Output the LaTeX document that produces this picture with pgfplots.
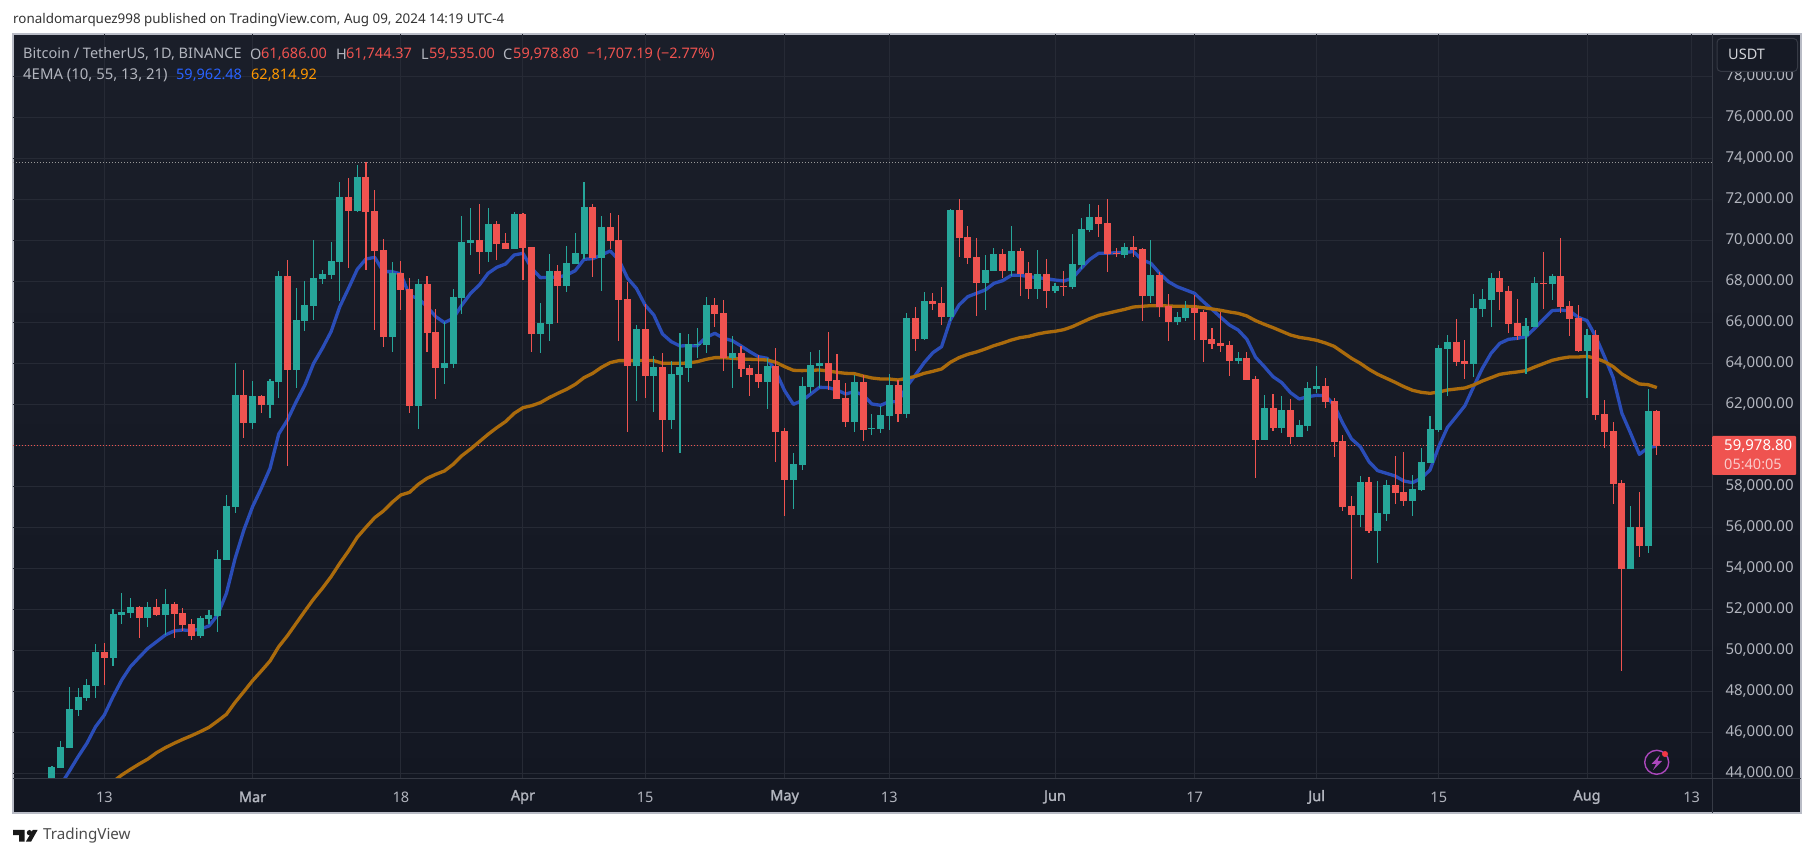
\documentclass[border=0pt]{standalone}
\usepackage{fontspec}
\usepackage{pgfplots}
\usepackage{pgfplotstable}
\pgfplotsset{compat=1.18}
\setmainfont{Noto Sans}
\newfontfamily\boldlab[FakeBold=1.6]{Noto Sans}
\definecolor{upc}{HTML}{26A69A}
\definecolor{dnc}{HTML}{EF5350}
\definecolor{gridc}{HTML}{262A35}
\definecolor{labc}{HTML}{B2B5BE}
\definecolor{bluel}{HTML}{2A4DB8}
\definecolor{orangel}{HTML}{AB6B0C}
\definecolor{framec}{HTML}{B9BCC6}
\definecolor{divc}{HTML}{363A45}
\definecolor{bgtop}{HTML}{1A1E29}
\definecolor{bgbot}{HTML}{131722}
\definecolor{usdtbg}{HTML}{161A25}
\definecolor{legblue}{HTML}{2962FF}
\definecolor{legor}{HTML}{FF9800}
\definecolor{purp}{HTML}{AB47BC}
\definecolor{dotred}{HTML}{F23645}
\newcommand{\fs}{\fontsize{14.5}{17}\selectfont}
\newcommand{\ft}{\fontsize{15}{17}\selectfont}
\newcommand{\fh}{\fontsize{13.4}{16}\selectfont}
\newcommand{\mb}[1]{{\boldlab #1}}

\pgfplotstableread{
d O H L C
-6 43300 44356 43300 44308
-5 44259 45576 44259 45283
-4 45235 48210 45235 47137
-3 47088 48161 46796 47722
-2 47674 48600 47527 48308
-1 48259 50308 47674 49917
1 49625 52015 49235 51771
2 51722 52795 51283 51869
3 51820 52552 51576 52113
5 51576 52356 51137 52113
7 51722 52990 50747 52259
11 50698 51673 50600 51576
12 51527 51966 51283 51722
13 51673 54893 50893 54454
14 54405 57576 54405 57039
15 56990 64014 56698 62453
17 61087 63136 60795 62405
19 61965 63234 61331 63136
20 63087 68502 62307 68258
22 63673 67673 62795 66112
23 66063 68014 65575 66844
24 66795 70014 66112 68161
25 68112 68551 67868 68356
26 68307 69917 68112 68990
27 68941 72843 67039 72112
29 71429 73673 71380 73087
33 65282 68941 64551 68404
36 61917 68112 60795 67868
39 63771 66015 62990 64015
40 63966 67625 63771 67234
41 67186 71186 66405 69917
42 69869 71576 69283 70015
44 69429 71576 68942 70795
47 69576 71381 69576 71283
50 65429 66942 64503 65966
51 65917 69332 65088 68503
53 67771 69722 67478 68893
54 68844 70356 68844 69381
55 69332 72844 69088 71624
57 69137 71186 67527 70649
61 63869 65869 62161 65673
63 63381 64356 61625 63820
65 61234 64112 60796 63478
66 63429 65478 59625 63820
67 63771 65429 63088 64942
68 64893 65722 64259 64942
69 64893 67234 64503 66844
72 64259 65332 62795 64503
76 63088 64259 61771 63868
79 58308 59625 56893 59088
80 59039 63332 58795 62893
81 62844 64551 62552 63917
82 63868 64649 62795 64015
86 61136 63429 60649 63088
88 60795 61527 60503 60844
89 60795 61917 60600 61478
90 61429 63478 60746 62941
92 61527 66454 61332 66210
94 65185 67478 65136 67039
97 66258 71527 66063 71478
101 67917 69283 66600 68551
102 68502 69624 68502 69331
104 68502 70697 68258 69478
107 67624 69527 67136 68356
109 67527 67917 67429 67770
111 67722 70307 67624 68844
112 68795 71088 68600 70551
113 70502 71770 70405 71136
117 69283 69868 69136 69673
120 67283 70014 66941 68307
123 66014 66502 65868 66258
124 66210 67039 66063 66697
130 64112 64551 63966 64258
133 60258 62453 60258 61819
135 60844 62405 60600 61722
137 60405 61234 60405 60990
138 60941 63088 60697 62795
139 62746 63868 62551 62892
144 56600 58502 56015 58209
146 55819 58258 54258 56697
147 56649 58307 56307 58063
150 57283 58551 56551 57868
151 57819 59868 57770 59185
152 59136 61429 59136 60795
153 60746 64892 60649 64746
154 64697 65380 62405 65039
157 63966 67380 63331 66697
158 66648 67624 66258 67136
159 67087 68405 65771 68161
163 65331 66210 63478 65819
164 65770 68209 65770 67917
166 67868 68356 67087 68258
170 64600 65673 62307 65380
175 53966 57039 53966 56015
177 55088 62746 54746 61673
}\upcandles

\pgfplotstableread{
d O H L C
0 49917 50357 48308 49625
4 52113 52161 50600 51576
6 52113 52503 51673 51722
8 52259 52356 50600 51771
9 51820 52064 50942 51235
10 51283 51527 50503 50698
16 62453 63673 60355 61087
18 62405 62453 61575 61965
21 68258 69039 58990 63673
28 72112 73039 68648 71429
30 73087 73803 68551 71380
31 71429 72453 65624 69478
32 69526 70063 64795 65282
34 68404 68990 66600 67575
35 67624 68161 61575 61917
37 67868 68259 64551 65478
38 65527 66649 62259 63771
43 70015 71771 68356 69429
45 70795 70942 69039 69820
46 69869 70356 69576 69576
48 71283 71332 68064 69625
49 69673 69673 64551 65429
52 68503 68795 65966 67771
56 71624 71771 68210 69137
58 70649 71332 69576 69966
59 70015 71234 65088 67088
60 67137 67966 60649 63869
62 65673 66893 62307 63381
64 63820 64503 59674 61234
70 66844 67186 65771 66405
71 66454 67088 63625 64259
73 64503 64844 63332 63722
74 63771 63917 62405 63429
75 63478 64405 62795 63088
77 63868 64747 59186 60649
78 60698 60844 56552 58308
83 64015 65527 62697 63136
84 63185 64453 62259 62259
85 62307 63039 60893 61136
87 63088 63429 60210 60746
91 62941 63185 61136 61527
93 66210 66746 64600 65185
95 67039 67429 66600 66893
96 66941 67722 65868 66258
98 71478 72014 69185 70112
99 70161 70697 68844 69136
100 69185 70112 66307 67917
103 69331 69575 68161 68502
105 69478 69624 67283 68356
106 68405 68941 67136 67624
108 68356 69088 66697 67527
110 67770 68502 67283 67722
114 71136 71722 70161 70795
115 70843 72014 68453 69331
116 69380 69624 69185 69331
118 69673 70209 69185 69527
119 69575 69624 66063 67283
121 68307 68453 66258 66746
122 66795 67380 65088 66014
125 66697 67331 65136 66453
126 66502 66600 64063 65136
127 65185 65722 64697 64941
128 64990 66502 64551 64844
129 64893 65088 63380 64112
131 64258 64551 63185 63185
132 63234 63380 58405 60258
134 61819 62502 60697 60844
136 61722 62258 60063 60405
140 62892 63283 61819 62112
141 62161 62307 59429 60161
142 60210 60502 56795 56990
143 57039 57527 53478 56600
145 58209 58453 55722 55819
148 58063 59478 57136 57673
149 57722 59673 57039 57283
155 65039 66161 63868 64063
156 64112 65136 63234 63966
160 68161 68502 66600 67478
161 67526 67770 65478 65917
162 65966 67136 65136 65331
165 67917 69429 66648 67868
167 68258 70112 66453 66746
168 66795 67039 65331 66161
169 66209 66844 64551 64600
171 65380 65624 61234 61478
172 61527 62209 59868 60649
173 60697 61136 57136 58112
174 58161 58307 48990 53966
176 56015 57722 54551 55088
178 61686 61744 59535 59979
}\downcandles

\pgfplotstableread{
d v
-5 43430
-4 44113
-3 44812
-2 45462
-1 46275
0 46844
1 47739
2 48552
3 49202
4 49657
5 50096
6 50421
7 50747
8 50942
9 50991
10 50958
11 51039
12 51186
13 51722
14 52779
15 54486
16 55869
17 57007
18 57901
19 58877
20 60551
21 61234
22 62128
23 62941
24 63998
25 64730
26 65543
27 66762
28 67656
29 68583
30 69087
31 69169
32 68470
33 68470
34 68356
35 67300
36 67169
37 66763
38 66275
39 65982
40 66194
41 66844
42 67413
43 67820
44 68389
45 68681
46 68844
47 69283
48 69364
49 68633
50 68177
51 68193
52 68193
53 68307
54 68519
55 69072
56 69104
57 69283
58 69478
59 69039
60 68145
61 67657
62 66844
63 66356
64 65429
65 65055
66 64844
67 64860
68 64860
69 65267
70 65462
71 65218
72 65104
73 64844
74 64568
75 64324
76 64243
77 63592
78 62665
79 61999
80 62178
81 62503
82 62828
83 62811
84 62697
85 62502
86 62616
87 62453
88 62015
89 61950
90 62128
91 62128
92 62860
93 63429
94 64031
95 64518
96 64811
97 66112
98 66844
99 67250
100 67413
101 67575
102 67900
103 68031
104 68291
105 68291
106 68226
107 68177
108 68128
109 68063
110 68014
111 68144
112 68632
113 69071
114 69364
115 69364
116 69396
117 69413
118 69445
119 69039
120 68876
121 68388
122 67982
123 67738
124 67575
125 67413
126 67006
127 66632
128 66242
129 65868
130 65624
131 65169
132 64291
133 63836
134 63348
135 63055
136 62567
137 62258
138 62372
139 62437
140 62421
141 61966
142 61071
143 60307
144 59933
145 59201
146 58762
147 58632
148 58502
149 58258
150 58177
151 58389
152 58795
153 59933
154 60876
155 61397
156 61933
157 62860
158 63754
159 64486
160 64974
161 65169
162 65218
163 65299
164 65706
165 66145
166 66567
167 66600
168 66551
169 66242
170 66079
171 65299
172 64323
173 63300
174 61559
175 60584
176 59559
177 59884
178 59962
}\ematen

\pgfplotstableread{
d v
1 43592
2 43917
3 44194
4 44454
5 44698
6 45007
7 45251
8 45462
9 45657
10 45836
11 46031
12 46243
13 46552
14 46877
15 47462
16 47982
17 48519
18 48990
19 49478
20 50178
21 50714
22 51316
23 51917
24 52503
25 53023
26 53592
27 54243
28 54844
29 55511
30 56000
31 56470
32 56795
33 57218
34 57576
35 57706
36 58096
37 58389
38 58584
39 58747
40 59072
41 59494
42 59820
43 60177
44 60535
45 60860
46 61153
47 61560
48 61836
49 61933
50 62080
51 62324
52 62535
53 62730
54 62974
55 63299
56 63511
57 63803
58 64031
59 64129
60 64129
61 64129
62 64145
63 64129
64 63999
65 63999
66 63999
67 64015
68 64080
69 64194
70 64275
71 64275
72 64243
73 64210
74 64194
75 64178
76 64161
77 64047
78 63836
79 63657
80 63641
81 63657
82 63673
83 63624
84 63559
85 63510
86 63494
87 63380
88 63283
89 63234
90 63234
91 63185
92 63266
93 63364
94 63510
95 63608
96 63722
97 64047
98 64275
99 64437
100 64551
101 64697
102 64860
103 64990
104 65136
105 65250
106 65315
107 65429
108 65510
109 65559
110 65640
111 65787
112 65982
113 66177
114 66340
115 66437
116 66535
117 66632
118 66746
119 66779
120 66811
121 66811
122 66795
123 66779
124 66779
125 66762
126 66714
127 66649
128 66584
129 66502
130 66437
131 66307
132 66079
133 65901
134 65738
135 65559
136 65380
137 65266
138 65201
139 65120
140 64990
141 64827
142 64535
143 64242
144 63998
145 63706
146 63462
147 63266
148 63071
149 62860
150 62681
151 62583
152 62535
153 62600
154 62697
155 62746
156 62795
157 62941
158 63136
159 63299
160 63462
161 63527
162 63576
163 63641
164 63819
165 63982
166 64144
167 64242
168 64307
169 64307
170 64340
171 64242
172 64080
173 63836
174 63478
175 63218
176 62990
177 62957
178 62815
}\emafiftyfive

\begin{document}
\begin{tikzpicture}
\path[use as bounding box,fill=white] (0pt,0pt) rectangle (1815pt,858pt);
\begin{scope}[x=1pt,y=-1pt,yshift=858pt]
\shade[top color=bgtop,bottom color=bgbot] (13,34) rectangle (1801,813);
\draw[framec,line width=1.2pt] (13,34) rectangle (1801,813);
\end{scope}
\begin{axis}[
  at={(13pt,79pt)},anchor=south west,
  scale only axis,width=1699pt,height=745pt,
  xmin=-10.47,xmax=184.33,ymin=43722,ymax=80063,
  axis line style={draw=none},
  tick style={draw=none},
  major tick length=0pt,
  grid=major,
  grid style={gridc,line width=1pt},
  xtick={0,17,34,48,62,78,90,109,125,139,153,170,182},
  xticklabels={13,\mb{Mar},18,\mb{Apr},15,\mb{May},13,\mb{Jun},17,\mb{Jul},15,\mb{Aug},13},
  xticklabel style={font=\fs,text=labc,anchor=center,yshift=-18pt},
  ytick={44000,46000,...,78000},
  yticklabel pos=right,
  yticklabel style={font=\ft,text=labc,anchor=west,xshift=10pt,
    /pgf/number format/fixed,/pgf/number format/fixed zerofill,
    /pgf/number format/precision=2,/pgf/number format/1000 sep={,},
    /pgf/number format/assume math mode=true},
  scaled y ticks=false,
]
\addplot[gray!80,dash pattern=on 1pt off 2pt,line width=1pt,forget plot] coordinates {(-10.47,73800) (184.33,73800)};
\addplot[dnc,dash pattern=on 1pt off 2pt,line width=1pt,forget plot] coordinates {(-10.47,59978.8) (184.33,59978.8)};
\addplot[bluel,line width=3.3pt,line join=round,forget plot] table[x=d,y=v] {\ematen};
\addplot[orangel,line width=3.3pt,line join=round,forget plot] table[x=d,y=v] {\emafiftyfive};
% wicks
\addplot[draw=none,forget plot,error bars/.cd,y dir=plus,y explicit,error mark=none,
  error bar style={upc,line width=1.1pt}]
  table[x=d,y=L,y error expr=\thisrow{H}-\thisrow{L}] {\upcandles};
\addplot[draw=none,forget plot,error bars/.cd,y dir=plus,y explicit,error mark=none,
  error bar style={dnc,line width=1.1pt}]
  table[x=d,y=L,y error expr=\thisrow{H}-\thisrow{L}] {\downcandles};
% bodies
\addplot[draw=none,forget plot,error bars/.cd,y dir=plus,y explicit,error mark=none,
  error bar style={upc,line width=7pt}]
  table[x=d,y=O,y error expr=\thisrow{C}-\thisrow{O}] {\upcandles};
\addplot[draw=none,forget plot,error bars/.cd,y dir=plus,y explicit,error mark=none,
  error bar style={dnc,line width=7pt}]
  table[x=d,y=C,y error expr=\thisrow{O}-\thisrow{C}] {\downcandles};
\end{axis}
\begin{scope}[x=1pt,y=-1pt,yshift=858pt]
\draw[divc,line width=1pt] (1712,34) -- (1712,813);
\draw[divc,line width=1pt] (13,779) -- (1801,779);
% header
\node[anchor=west,inner sep=0pt,text=black!80] at (13,20) {\fh ronaldomarquez998 published on TradingView.com, Aug 09, 2024 14:19 UTC-4};
\node[anchor=west,inner sep=0pt,text=labc] at (23,54) {\fs Bitcoin / TetherUS, 1D, BINANCE};
\node[anchor=west,inner sep=0pt,text=labc] at (250,54) {\fs O};
\node[anchor=west,inner sep=0pt,text=dnc] at (261,54) {\fs 61,686.00};
\node[anchor=west,inner sep=0pt,text=labc] at (336,54) {\fs H};
\node[anchor=west,inner sep=0pt,text=dnc] at (346,54) {\fs 61,744.37};
\node[anchor=west,inner sep=0pt,text=labc] at (421,54) {\fs L};
\node[anchor=west,inner sep=0pt,text=dnc] at (429,54) {\fs 59,535.00};
\node[anchor=west,inner sep=0pt,text=labc] at (503,54) {\fs C};
\node[anchor=west,inner sep=0pt,text=dnc] at (513,54) {\fs 59,978.80};
\node[anchor=west,inner sep=0pt,text=dnc] at (587,54) {\fs −1,707.19 (−2.77\%)};
\node[anchor=west,inner sep=0pt,text=labc] at (23,75) {\fontsize{14.9}{17}\selectfont 4EMA (10, 55, 13, 21)};
\node[anchor=west,inner sep=0pt,text=legblue] at (176,75) {\fs 59,962.48};
\node[anchor=west,inner sep=0pt,text=legor] at (251,75) {\fs 62,814.92};
% USDT box
\draw[divc,fill=usdtbg,rounded corners=4pt,line width=1pt] (1717,38.5) rectangle (1797.5,71.5);
\node[anchor=west,inner sep=0pt,text=labc!60!white] at (1728,54.5) {\fs USDT};
% price tag
\fill[dnc,rounded corners=1pt] (1712,436) rectangle (1796,475);
\node[anchor=west,inner sep=0pt,text=white] at (1724,446) {\ft 59,978.80};
\node[anchor=west,inner sep=0pt,text=white!70!dnc] at (1724,464) {\fs 05:40:05};
% icon
\draw[purp,line width=1.4pt] (1656.7,762.3) circle (12);
\fill[purp] (1660,755) -- (1651.5,764) -- (1656,764) -- (1653,770) -- (1662,761) -- (1657.5,761) -- cycle;
\fill[dotred] (1665,754) circle (3);
% logo
\fill[black!90] (13,830) -- (24.5,830) -- (24.5,841.7) -- (19,841.7) -- (19,835.2) -- (13,835.2) -- cycle;
\fill[black!90] (29.5,832.7) circle (2.7);
\fill[black!90] (32.8,830) -- (37.6,830) -- (31,841.7) -- (25.8,841.7) -- cycle;
\node[anchor=west,inner sep=0pt,text=black!70] at (43,836) {\fontsize{15.2}{18}\selectfont TradingView};
\end{scope}
\end{tikzpicture}
\end{document}
